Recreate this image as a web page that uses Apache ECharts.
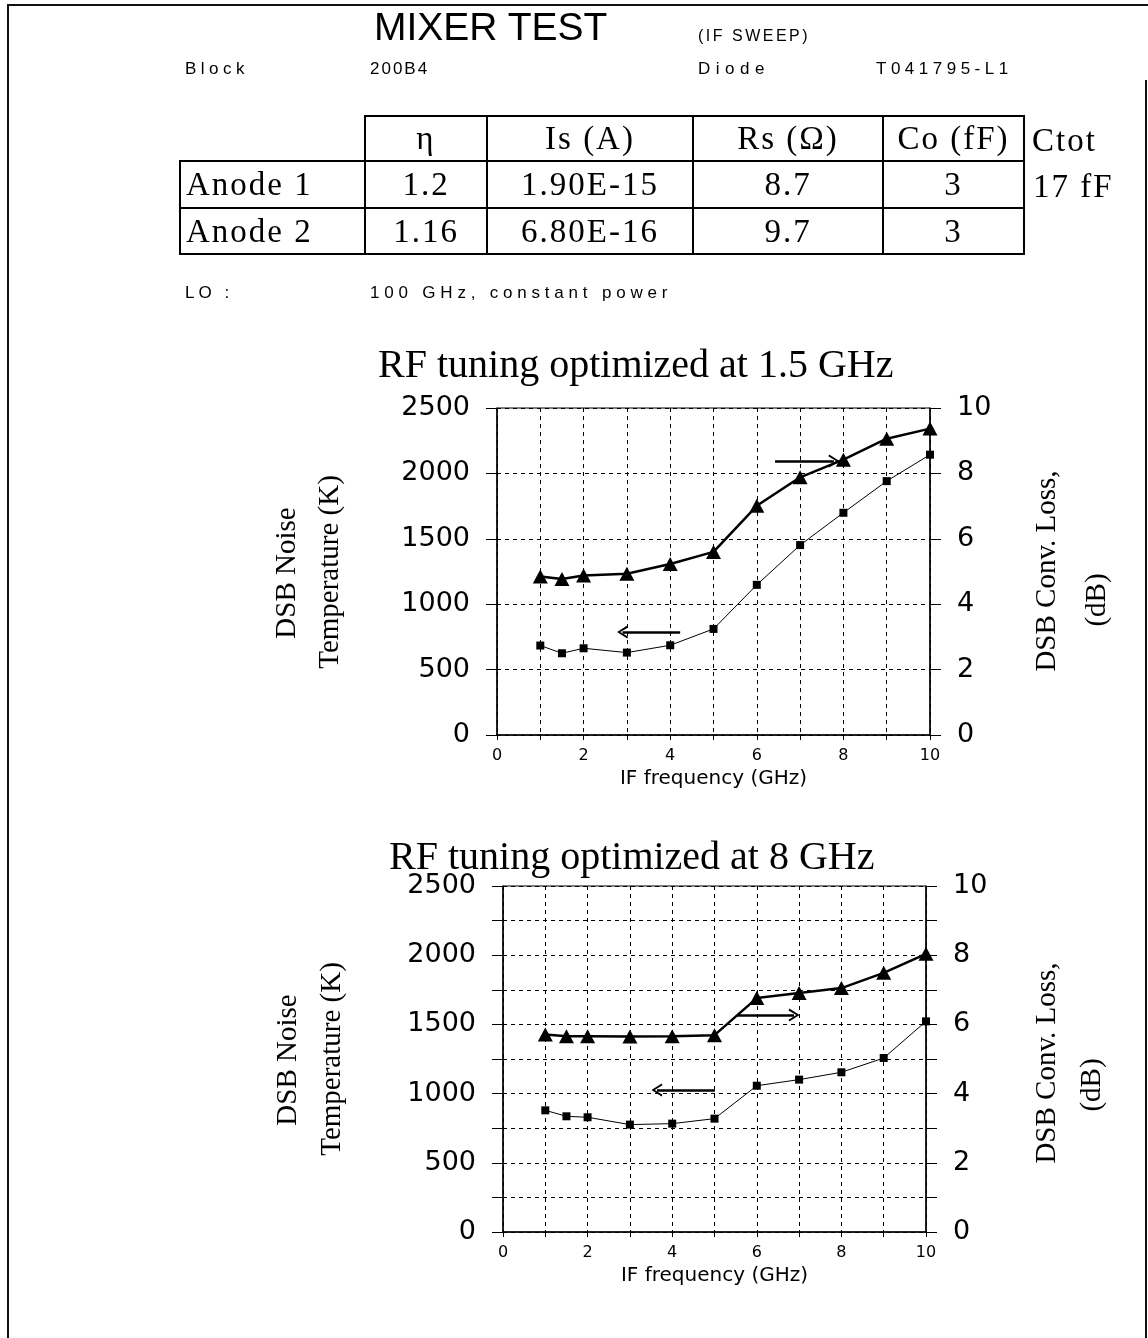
<!DOCTYPE html>
<html>
<head>
<meta charset="utf-8">
<script src="https://cdn.jsdelivr.net/npm/echarts@6/dist/echarts.min.js"></script>
<style>
  html, body { margin: 0; padding: 0; background: #fff; }
  #page { position: relative; width: 1148px; height: 1338px; overflow: hidden; background: #fff; }
  #chart { position: absolute; left: 0; top: 0; width: 1148px; height: 1338px; }
  .t { position: absolute; z-index: 2; color: #000; white-space: nowrap; }
  .sans { font-family: "Liberation Sans", Arial, sans-serif; }
  .serif { font-family: "Liberation Serif", "Times New Roman", serif; }
  .line { position: absolute; background: #111; z-index: 3; }
  table.params { position: absolute; left: 179px; top: 115px; border-collapse: collapse; z-index: 2;
    font-family: "Liberation Serif", "Times New Roman", serif; font-size: 33px; letter-spacing: 2px; }
  table.params td { border: 2px solid #000; text-align: center; padding: 0; line-height: 1; }
  table.params td.corner { border-top: none; border-left: none; }
  table.params td.rowh { text-align: left; padding-left: 5px; }
</style>
</head>
<body>
<div id="page">
  <div class="line" style="left:9px; top:4px; width:1139px; height:2px;"></div>
  <div class="line" style="left:7px; top:4px; width:2px; height:1334px;"></div>
  <div class="line" style="left:1145px; top:80px; width:2px; height:1258px;"></div>

  <div id="chart"></div>

  <div class="t sans" style="left:374px; top:5px; font-size:39px;">MIXER TEST</div>
  <div class="t sans" style="left:698px; top:27px; font-size:16px; letter-spacing:2.5px;">(IF SWEEP)</div>
  <div class="t sans" style="left:185px; top:59px; font-size:17px; letter-spacing:4.5px;">Block</div>
  <div class="t sans" style="left:370px; top:59px; font-size:17px; letter-spacing:2px;">200B4</div>
  <div class="t sans" style="left:698px; top:59px; font-size:17px; letter-spacing:5.5px;">Diode</div>
  <div class="t sans" style="left:876px; top:59px; font-size:17px; letter-spacing:4.5px;">T041795-L1</div>

  <table class="params">
    <tr style="height:45px;">
      <td class="corner" style="width:184px;"></td>
      <td style="width:120px;">η</td>
      <td style="width:204px;">Is (A)</td>
      <td style="width:188px;">Rs (Ω)</td>
      <td style="width:139px;">Co (fF)</td>
    </tr>
    <tr style="height:47px;">
      <td class="rowh">Anode 1</td>
      <td>1.2</td>
      <td>1.90E-15</td>
      <td>8.7</td>
      <td>3</td>
    </tr>
    <tr style="height:46px;">
      <td class="rowh">Anode 2</td>
      <td>1.16</td>
      <td>6.80E-16</td>
      <td>9.7</td>
      <td>3</td>
    </tr>
  </table>
  <div class="t serif" style="left:1032px; top:122px; font-size:33px; letter-spacing:2px;">Ctot</div>
  <div class="t serif" style="left:1033px; top:168px; font-size:33px; letter-spacing:2px;">17 fF</div>

  <div class="t sans" style="left:185px; top:283px; font-size:17px; letter-spacing:4px;">LO :</div>
  <div class="t sans" style="left:370px; top:283px; font-size:17px; letter-spacing:4.8px;">100 GHz, constant power</div>
</div>

<script>
// ---------------- data ----------------
const ifFreq = [1, 1.5, 2, 3, 4, 5, 6, 7, 8, 9, 10];            // GHz

// Chart 1 : RF tuning optimized at 1.5 GHz
const noiseTemp1 = [684, 625, 663, 630, 686, 811, 1148, 1452, 1699, 1941, 2143];   // K  (squares, left axis)
const convLoss1  = [4.85, 4.77, 4.88, 4.93, 5.23, 5.6, 7.01, 7.88, 8.42, 9.06, 9.37]; // dB (triangles, right axis)

// Chart 2 : RF tuning optimized at 8 GHz
const noiseTemp2 = [879, 836, 829, 776, 783, 819, 1057, 1101, 1154, 1257, 1522];
const convLoss2  = [5.71, 5.66, 5.66, 5.65, 5.66, 5.69, 6.76, 6.91, 7.05, 7.49, 8.04];

// tick labels
const xTickLabels = [0, 2, 4, 6, 8, 10];
const tempTickLabels = [0, 500, 1000, 1500, 2000, 2500];
const lossTickLabels = [0, 2, 4, 6, 8, 10];

// arrow annotations (data coordinates): [x0, x1, y]
const arrowLoss1 = [6.42, 7.78, 8.38];
const arrowTemp1 = [4.23, 2.9, 787];
const arrowLoss2 = [5.53, 6.88, 6.27];
const arrowTemp2 = [5.01, 3.64, 1026];

const titles = ['RF tuning optimized at 1.5 GHz', 'RF tuning optimized at 8 GHz'];

// ---------------- chart ----------------
const zip = (xs, ys) => xs.map((x, i) => [x, ys[i]]);
const BLACK = '#000';
const SANS = 'DejaVu Sans';
const SERIF = 'Liberation Serif';
const caret = 'path://M0,10 L5,0 L10,10 L8.6,10.8 L5,3.2 L1.4,10.8 Z';

function xAxisCfg(gi) {
  return {
    gridIndex: gi, type: 'value', min: 0, max: 10, interval: 1,
    axisLine: { show: true, onZero: false, lineStyle: { color: BLACK, width: 1.5 } },
    axisTick: { show: true, length: 5, lineStyle: { color: BLACK } },
    axisLabel: { color: BLACK, fontFamily: SANS, fontSize: 16, margin: 13,
      formatter: v => xTickLabels.includes(v) ? String(v) : '' },
    splitLine: { show: true, lineStyle: { color: BLACK, type: [4, 4], width: 1 } },
    name: 'IF frequency (GHz)', nameLocation: 'middle', nameGap: 34,
    nameTextStyle: { color: BLACK, fontFamily: SANS, fontSize: 20 }
  };
}
function leftAxisCfg(gi, interval) {
  return {
    gridIndex: gi, type: 'value', position: 'left', min: 0, max: 2500, interval: interval,
    axisLine: { show: true, lineStyle: { color: BLACK, width: 1.5 } },
    axisTick: { show: true, length: 11, lineStyle: { color: BLACK } },
    axisLabel: { color: BLACK, fontFamily: SANS, fontSize: 27, margin: 27,
      formatter: v => tempTickLabels.includes(v) ? String(v) : '' },
    splitLine: { show: true, lineStyle: { color: BLACK, type: [4, 4], width: 1 } }
  };
}
function rightAxisCfg(gi, interval) {
  return {
    gridIndex: gi, type: 'value', position: 'right', min: 0, max: 10, interval: interval,
    axisLine: { show: true, lineStyle: { color: BLACK, width: 1.5 } },
    axisTick: { show: true, length: 11, lineStyle: { color: BLACK } },
    axisLabel: { color: BLACK, fontFamily: SANS, fontSize: 27, margin: 27,
      formatter: v => lossTickLabels.includes(v) ? String(v) : '' },
    splitLine: { show: false }
  };
}
function arrow(a) {
  return {
    silent: true, symbol: ['none', caret], symbolSize: [13, 11],
    label: { show: false },
    lineStyle: { color: BLACK, width: 2.5, type: 'solid' },
    emphasis: { disabled: true },
    data: [[{ coord: [a[0], a[2]] }, { coord: [a[1], a[2]] }]]
  };
}
function tempSeries(xi, yi, data, arr) {
  return {
    type: 'line', xAxisIndex: xi, yAxisIndex: yi, data: zip(ifFreq, data),
    symbol: 'rect', symbolSize: 8, showSymbol: true,
    lineStyle: { color: BLACK, width: 1 }, itemStyle: { color: BLACK },
    markLine: arrow(arr), z: 3
  };
}
function lossSeries(xi, yi, data, arr) {
  return {
    type: 'line', xAxisIndex: xi, yAxisIndex: yi, data: zip(ifFreq, data),
    symbol: 'triangle', symbolSize: [15, 14], showSymbol: true,
    lineStyle: { color: BLACK, width: 2.5 }, itemStyle: { color: BLACK },
    markLine: arrow(arr), z: 4
  };
}
function vText(text, x, y, size) {
  return { type: 'text', x: x, y: y, rotation: Math.PI / 2, z: 10,
    style: { text: text, font: size + 'px "' + SERIF + '"', fill: BLACK, align: 'center', verticalAlign: 'middle' } };
}

const chart = echarts.init(document.getElementById('chart'), null, { renderer: 'canvas' });
chart.setOption({
  animation: false,
  backgroundColor: 'transparent',
  title: [
    { text: titles[0], left: 373, top: 341, textStyle: { fontFamily: SERIF, fontSize: 40, fontWeight: 'normal', color: BLACK } },
    { text: titles[1], left: 384, top: 833, textStyle: { fontFamily: SERIF, fontSize: 40, fontWeight: 'normal', color: BLACK } }
  ],
  grid: [
    { left: 497, top: 408, width: 433, height: 327, show: true, borderColor: BLACK, borderWidth: 1, containLabel: false },
    { left: 503, top: 886, width: 423, height: 346, show: true, borderColor: BLACK, borderWidth: 1, containLabel: false }
  ],
  xAxis: [xAxisCfg(0), xAxisCfg(1)],
  yAxis: [leftAxisCfg(0, 500), rightAxisCfg(0, 2), leftAxisCfg(1, 250), rightAxisCfg(1, 1)],
  series: [
    tempSeries(0, 0, noiseTemp1, arrowTemp1),
    lossSeries(0, 1, convLoss1, arrowLoss1),
    tempSeries(1, 2, noiseTemp2, arrowTemp2),
    lossSeries(1, 3, convLoss2, arrowLoss2)
  ],
  graphic: [
    vText('DSB Noise', 287, 573, 29),
    vText('Temperature (K)', 330, 572, 29),
    vText('DSB Conv. Loss,', 1047, 571, 29),
    vText('(dB)', 1097, 600, 29),
    vText('DSB Noise', 288, 1060, 29),
    vText('Temperature (K)', 332, 1059, 29),
    vText('DSB Conv. Loss,', 1047, 1063, 29),
    vText('(dB)', 1092, 1085, 29)
  ]
});
</script>
</body>
</html>
